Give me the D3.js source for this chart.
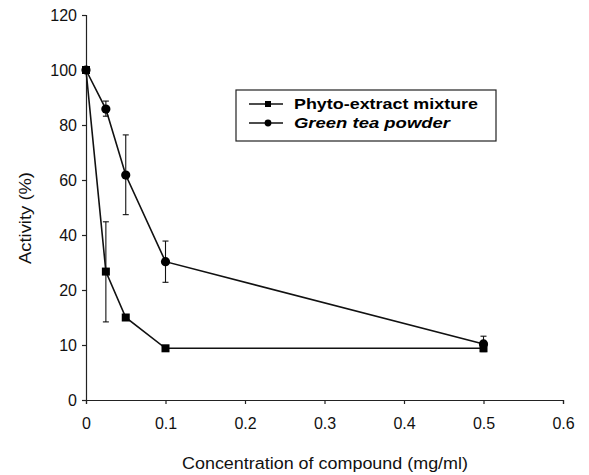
<!DOCTYPE html>
<html>
<head>
<meta charset="utf-8">
<script src="https://cdn.jsdelivr.net/npm/d3@7"></script>
<style>
  body { margin: 0; background: #fff; }
  svg { font-family: "Liberation Sans", Arial, sans-serif; }
</style>
</head>
<body>
<div id="chart"></div>
<script>
// Values (y in the axis' own labelled units)
const concentration = [0, 0.025, 0.05, 0.1, 0.5];
const phytoActivity = [100, 26.7, 15, 9.4, 9.4];
const phytoLow = [null, 14.2, null, null, null];
const phytoHigh = [null, 44.8, null, null, null];
const greenTeaActivity = [100, 85.8, 61.8, 30.3, 10.2];
const greenTeaLow = [null, 83.2, 47.4, 22.8, 8.8];
const greenTeaHigh = [null, 88.7, 76.4, 37.8, 11.6];

const xTicks = [0, 0.1, 0.2, 0.3, 0.4, 0.5, 0.6];
const yTicks = [0, 10, 20, 40, 60, 80, 100, 120];
const seriesNames = ['Phyto-extract mixture', 'Green tea powder'];

const WIDTH = 589;
const HEIGHT = 475;

const svg = d3.select('#chart')
    .append('svg')
    .attr('width', WIDTH)
    .attr('height', HEIGHT);

// the printed axis is not linear: 0-10-20 are as far apart as 20-40-60...
const xScale = d3.scaleLinear()
    .domain([0, 0.6])
    .range([86, 563]);

const yScale = d3.scaleLinear()
    .domain([0, 20, 120])
    .range([400, 290, 15]);

// Axes
const xAxis = d3.axisBottom(xScale)
    .tickValues(xTicks)
    .tickFormat(d => d === 0 ? '0' : d3.format('.1f')(d))
    .tickSize(4)
    .tickPadding(14);
const gx = svg.append('g')
    .attr('class', 'x-axis')
    .attr('transform', `translate(0, ${yScale(0)})`)
    .call(xAxis);

const yAxis = d3.axisLeft(yScale)
    .tickValues(yTicks)
    .tickSize(4)
    .tickPadding(5);
const gy = svg.append('g')
    .attr('class', 'y-axis')
    .attr('transform', `translate(${xScale(0)}, 0)`)
    .call(yAxis);

svg.selectAll('.x-axis text, .y-axis text')
    .attr('font-size', 16)
    .attr('font-family', '"Liberation Sans", Arial, sans-serif')
    .attr('fill', '#111');
svg.selectAll('.x-axis path, .x-axis line, .y-axis path, .y-axis line')
    .attr('stroke', '#222')
    .attr('stroke-width', 1.2);

// Axis titles
svg.append('text')
    .attr('x', 325)
    .attr('y', 469)
    .attr('text-anchor', 'middle')
    .attr('font-size', 16)
    .attr('textLength', 286)
    .attr('lengthAdjust', 'spacingAndGlyphs')
    .attr('fill', '#111')
    .text('Concentration of compound (mg/ml)');

svg.append('text')
    .attr('transform', 'translate(31, 218) rotate(-90)')
    .attr('text-anchor', 'middle')
    .attr('font-size', 16)
    .attr('textLength', 92)
    .attr('lengthAdjust', 'spacingAndGlyphs')
    .attr('fill', '#111')
    .text('Activity (%)');

// Series
const line = d3.line()
    .x(d => xScale(d[0]))
    .y(d => yScale(d[1]));

const phyto = concentration.map((c, i) => [c, phytoActivity[i], phytoLow[i], phytoHigh[i]]);
const greenTea = concentration.map((c, i) => [c, greenTeaActivity[i], greenTeaLow[i], greenTeaHigh[i]]);

function drawErrorBars(data) {
    const g = svg.append('g')
        .attr('stroke', '#111')
        .attr('stroke-width', 1.1);
    const withErr = data.filter(d => d[2] !== null);
    g.selectAll('line.v')
        .data(withErr)
        .enter()
        .append('line')
        .attr('x1', d => xScale(d[0]))
        .attr('x2', d => xScale(d[0]))
        .attr('y1', d => yScale(d[2]))
        .attr('y2', d => yScale(d[3]));
    [2, 3].forEach(k => {
        g.selectAll('line.cap' + k)
            .data(withErr)
            .enter()
            .append('line')
            .attr('x1', d => xScale(d[0]) - 3)
            .attr('x2', d => xScale(d[0]) + 3)
            .attr('y1', d => yScale(d[k]))
            .attr('y2', d => yScale(d[k]));
    });
}

drawErrorBars(phyto);
drawErrorBars(greenTea);

svg.append('path')
    .datum(phyto)
    .attr('d', line)
    .attr('fill', 'none')
    .attr('stroke', '#111')
    .attr('stroke-width', 1.6);

svg.append('path')
    .datum(greenTea)
    .attr('d', line)
    .attr('fill', 'none')
    .attr('stroke', '#111')
    .attr('stroke-width', 1.6);

svg.selectAll('rect.phyto')
    .data(phyto)
    .enter()
    .append('rect')
    .attr('x', d => xScale(d[0]) - 4)
    .attr('y', d => yScale(d[1]) - 4)
    .attr('width', 8)
    .attr('height', 8)
    .attr('fill', '#000');

svg.selectAll('circle.tea')
    .data(greenTea)
    .enter()
    .append('circle')
    .attr('cx', d => xScale(d[0]))
    .attr('cy', d => yScale(d[1]))
    .attr('r', 4.6)
    .attr('fill', '#000');

// Legend
const legend = svg.append('g')
    .attr('transform', 'translate(236, 90)');
legend.append('rect')
    .attr('width', 260)
    .attr('height', 51)
    .attr('fill', '#fff')
    .attr('stroke', '#222')
    .attr('stroke-width', 1.2);

const rows = legend.selectAll('g.row')
    .data(seriesNames)
    .enter()
    .append('g')
    .attr('transform', (d, i) => `translate(0, ${14 + i * 19})`);

rows.append('line')
    .attr('x1', 13)
    .attr('x2', 47)
    .attr('stroke', '#111')
    .attr('stroke-width', 1.6);

rows.filter((d, i) => i === 0)
    .append('rect')
    .attr('x', 29)
    .attr('y', -3)
    .attr('width', 6)
    .attr('height', 6)
    .attr('fill', '#000');

rows.filter((d, i) => i === 1)
    .append('circle')
    .attr('cx', 32)
    .attr('r', 3.4)
    .attr('fill', '#000');

rows.append('text')
    .attr('x', 58)
    .attr('dy', '0.36em')
    .attr('font-size', 15)
    .attr('font-weight', 'bold')
    .attr('font-style', (d, i) => i === 1 ? 'italic' : 'normal')
    .attr('textLength', (d, i) => i === 0 ? 184 : 156)
    .attr('lengthAdjust', 'spacingAndGlyphs')
    .attr('fill', '#000')
    .text(d => d);
</script>
</body>
</html>
